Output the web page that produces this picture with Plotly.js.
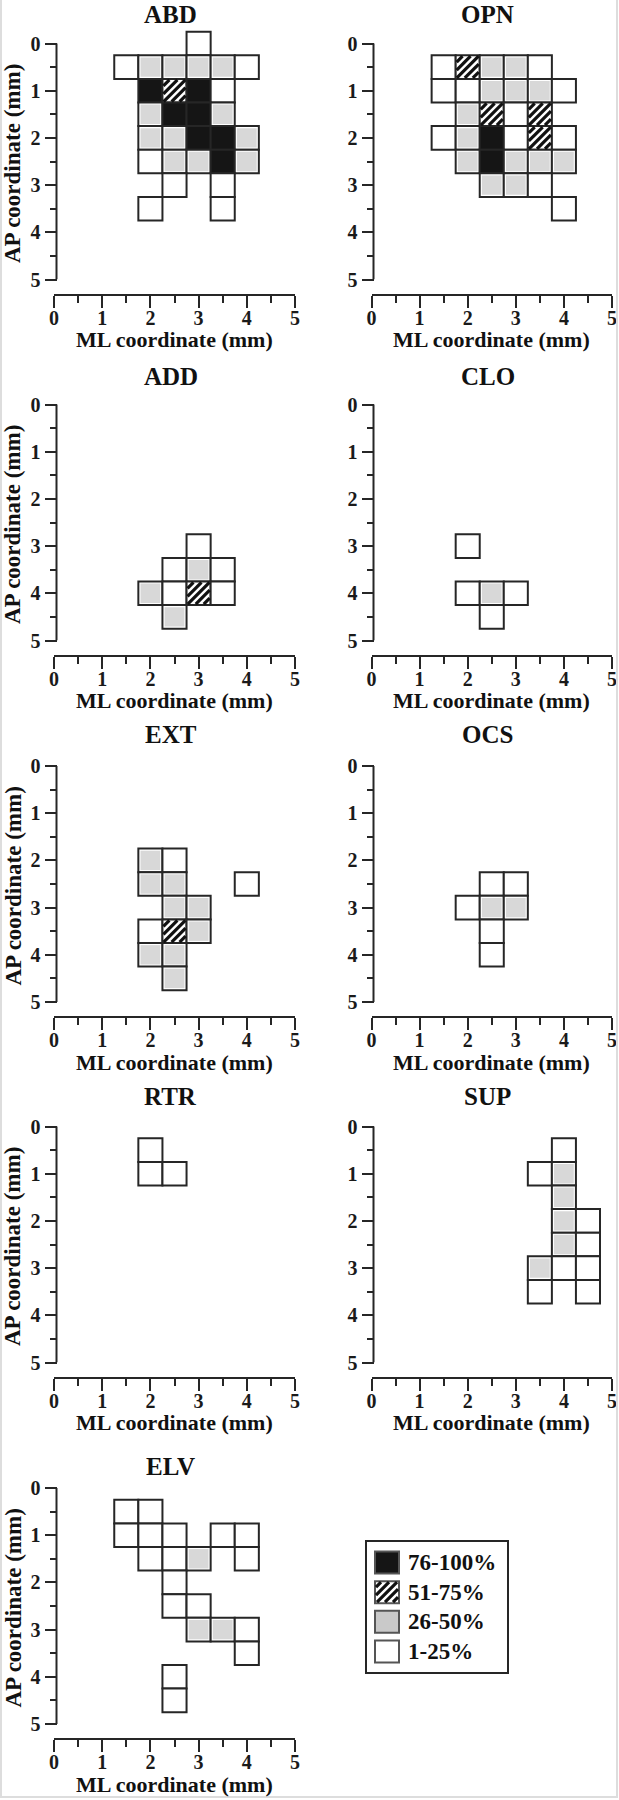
<!DOCTYPE html>
<html>
<head>
<meta charset="utf-8">
<script src="https://cdn.plot.ly/plotly-3.0.1.min.js"></script>
<style>
html, body { margin: 0; padding: 0; background: #ffffff; }
#chart { width: 619px; height: 1800px; }
</style>
</head>
<body>
<div id="chart"></div>
<script>
// ---------------- DATA ----------------
// level codes: 4 = 76-100%, 3 = 51-75%, 2 = 26-50%, 1 = 1-25%
const panelNames = ['ABD', 'OPN', 'ADD', 'CLO', 'EXT', 'OCS', 'RTR', 'SUP', 'ELV'];
const levelCodes = [4, 3, 2, 1];
const levelLabels = ['76-100%', '51-75%', '26-50%', '1-25%'];
const xTickVals = [0, 1, 2, 3, 4, 5];
const yTickVals = [0, 1, 2, 3, 4, 5];
const xAxisTitle = 'ML coordinate (mm)';
const yAxisTitle = 'AP coordinate (mm)';

const ABD_ml    = [3, 1.5, 2, 2.5, 3, 3.5, 4, 2, 2.5, 3, 3.5, 2, 2.5, 3, 3.5, 2, 2.5, 3, 3.5, 4, 2, 2.5, 3, 3.5, 4, 2.5, 3.5, 2, 3.5];
const ABD_ap    = [0, 0.5, 0.5, 0.5, 0.5, 0.5, 0.5, 1, 1, 1, 1, 1.5, 1.5, 1.5, 1.5, 2, 2, 2, 2, 2, 2.5, 2.5, 2.5, 2.5, 2.5, 3, 3, 3.5, 3.5];
const ABD_level = [1, 1, 2, 2, 2, 2, 1, 4, 3, 4, 1, 2, 4, 4, 2, 2, 2, 4, 4, 2, 1, 2, 2, 4, 2, 1, 1, 1, 1];

const OPN_ml    = [1.5, 2, 2.5, 3, 3.5, 1.5, 2, 2.5, 3, 3.5, 4, 2, 2.5, 3, 3.5, 1.5, 2, 2.5, 3, 3.5, 4, 2, 2.5, 3, 3.5, 4, 2.5, 3, 3.5, 4];
const OPN_ap    = [0.5, 0.5, 0.5, 0.5, 0.5, 1, 1, 1, 1, 1, 1, 1.5, 1.5, 1.5, 1.5, 2, 2, 2, 2, 2, 2, 2.5, 2.5, 2.5, 2.5, 2.5, 3, 3, 3, 3.5];
const OPN_level = [1, 3, 2, 2, 1, 1, 1, 2, 2, 2, 1, 2, 3, 1, 3, 1, 2, 4, 1, 3, 1, 2, 4, 2, 2, 2, 2, 2, 1, 1];

const ADD_ml    = [3, 2.5, 3, 3.5, 2, 2.5, 3, 3.5, 2.5];
const ADD_ap    = [3, 3.5, 3.5, 3.5, 4, 4, 4, 4, 4.5];
const ADD_level = [1, 1, 2, 1, 2, 1, 3, 1, 2];

const CLO_ml    = [2, 2, 2.5, 3, 2.5];
const CLO_ap    = [3, 4, 4, 4, 4.5];
const CLO_level = [1, 1, 2, 1, 1];

const EXT_ml    = [2, 2.5, 2, 2.5, 4, 2.5, 3, 2, 2.5, 3, 2, 2.5, 2.5];
const EXT_ap    = [2, 2, 2.5, 2.5, 2.5, 3, 3, 3.5, 3.5, 3.5, 4, 4, 4.5];
const EXT_level = [2, 1, 2, 2, 1, 2, 2, 1, 3, 2, 2, 2, 2];

const OCS_ml    = [2.5, 3, 2, 2.5, 3, 2.5, 2.5];
const OCS_ap    = [2.5, 2.5, 3, 3, 3, 3.5, 4];
const OCS_level = [1, 1, 1, 2, 2, 1, 1];

const RTR_ml    = [2, 2, 2.5];
const RTR_ap    = [0.5, 1, 1];
const RTR_level = [1, 1, 1];

const SUP_ml    = [4, 3.5, 4, 4, 4, 4.5, 4, 4.5, 3.5, 4, 4.5, 3.5, 4.5];
const SUP_ap    = [0.5, 1, 1, 1.5, 2, 2, 2.5, 2.5, 3, 3, 3, 3.5, 3.5];
const SUP_level = [1, 1, 2, 2, 2, 1, 2, 1, 2, 1, 1, 1, 1];

const ELV_ml    = [1.5, 2, 1.5, 2, 2.5, 3.5, 4, 2, 2.5, 3, 4, 2.5, 2.5, 3, 3, 3.5, 4, 4, 2.5, 2.5];
const ELV_ap    = [0.5, 0.5, 1, 1, 1, 1, 1, 1.5, 1.5, 1.5, 1.5, 2, 2.5, 2.5, 3, 3, 3, 3.5, 4, 4.5];
const ELV_level = [1, 1, 1, 1, 1, 1, 1, 1, 1, 2, 1, 1, 1, 1, 2, 2, 1, 1, 1, 1];

// ---------------- STYLE / LAYOUT ----------------
const W = 619, H = 1800;
const px = x => x / W;
const py = y => 1 - y / H;
const INK = '#262626';
const SERIF = '"Liberation Serif", "Times New Roman", serif';
const CELL = 0.5;
const HATCH_LEVEL = 3;
const GREY_LEVEL = 2;
const GREY_INSET = 0.045;     // grey fill sits slightly inside the outline, as in the figure

const levelFill = {4: '#151515', 3: '#ffffff', 2: '#ffffff', 1: '#ffffff'};
const levelSwatch = {4: '#151515', 3: '#ffffff', 2: '#c9c9c9', 1: '#ffffff'};
const GREY = '#d8d8d8';

const panelData = {
  ABD: [ABD_ml, ABD_ap, ABD_level], OPN: [OPN_ml, OPN_ap, OPN_level],
  ADD: [ADD_ml, ADD_ap, ADD_level], CLO: [CLO_ml, CLO_ap, CLO_level],
  EXT: [EXT_ml, EXT_ap, EXT_level], OCS: [OCS_ml, OCS_ap, OCS_level],
  RTR: [RTR_ml, RTR_ap, RTR_level], SUP: [SUP_ml, SUP_ap, SUP_level],
  ELV: [ELV_ml, ELV_ap, ELV_level]
};

const colLeft = [54, 371.5];
const colRight = [295, 612];
const yLineX = [56.5, 373.5];
const titleX = [170.5, 487.5];
const rowTop = [43.5, 404.5, 766, 1126.5, 1488];
const rowH = 236;
const yPad = 0.4;            // extra data room above AP = 0 so edge cells are not clipped
const xLineGap = 15;
const titleY = [14.5, 376, 734, 1096, 1466];

// diagonal "/" hatch segments for cells, computed in pixel space then mapped back to data units
function hatchLines(cx, cy, hx, hy, sx, sy, step) {
  const xs = [], ys = [];
  cx.forEach((c, i) => {
    const CX = c * sx, CY = cy[i] * sy, HX = hx * sx, HY = hy * sy;
    const lim = HX + HY;
    for (let d = -Math.floor(lim / step) * step; d <= lim; d += step) {
      const k = CX + CY + d;
      const X0 = Math.max(CX - HX, k - CY - HY);
      const X1 = Math.min(CX + HX, k - CY + HY);
      if (X1 - X0 < 1.5) continue;
      xs.push(X0 / sx, X1 / sx, null);
      ys.push((k - X0) / sy, (k - X1) / sy, null);
    }
  });
  return {x: xs, y: ys};
}

function baseAxis() {
  return {
    showline: true, linewidth: 2, linecolor: INK,
    ticks: 'outside', ticklen: 12, tickwidth: 2, tickcolor: INK,
    tickmode: 'array',
    minor: {ticks: 'outside', ticklen: 7, tickwidth: 2, tickcolor: INK, dtick: 0.5, tick0: 0, showgrid: false},
    showgrid: false, zeroline: false, fixedrange: true,
    tickfont: {family: SERIF, size: 20, weight: 'bold', color: '#1a1a1a'}
  };
}

const traces = [];
const overTraces = [];
const layout = {
  width: W, height: H,
  margin: {l: 0, r: 0, t: 0, b: 0},
  paper_bgcolor: '#ffffff', plot_bgcolor: 'rgba(0,0,0,0)',
  showlegend: false, barmode: 'overlay',
  annotations: [], shapes: []
};

panelNames.forEach((name, i) => {
  const row = Math.floor(i / 2), col = i % 2;
  const k = i + 1;
  const xa = 'xaxis' + (k === 1 ? '' : k), ya = 'yaxis' + (k === 1 ? '' : k);
  const xr = 'x' + (k === 1 ? '' : k), yr = 'y' + (k === 1 ? '' : k);
  const top = rowTop[row], bottom = rowTop[row] + rowH;
  const sx = (colRight[col] - colLeft[col]) / 5, sy = rowH / 5;
  const [ml, ap, lev] = panelData[name];

  // outlined cells
  traces.push({
    type: 'bar', orientation: 'v',
    x: ml,
    y: ap.map(() => CELL),
    base: ap.map(a => a - CELL / 2),
    width: ml.map(() => CELL),
    xaxis: xr, yaxis: yr,
    hoverinfo: 'skip',
    marker: {color: lev.map(l => levelFill[l]), line: {color: INK, width: 2}}
  });

  // grey fill of 26-50% cells
  const gx = ml.filter((v, j) => lev[j] === GREY_LEVEL);
  const gy = ap.filter((v, j) => lev[j] === GREY_LEVEL);
  if (gx.length) {
    overTraces.push({
      type: 'bar', orientation: 'v',
      x: gx,
      y: gy.map(() => CELL - 2 * GREY_INSET),
      base: gy.map(a => a - CELL / 2 + GREY_INSET),
      width: gx.map(() => CELL - 2 * GREY_INSET),
      xaxis: xr, yaxis: yr, hoverinfo: 'skip',
      marker: {color: GREY, line: {width: 0}}
    });
  }

  // hatching of 51-75% cells
  const hx = ml.filter((v, j) => lev[j] === HATCH_LEVEL);
  const hy = ap.filter((v, j) => lev[j] === HATCH_LEVEL);
  if (hx.length) {
    const h = hatchLines(hx, hy, CELL / 2 - 0.02, CELL / 2 - 0.02, sx, sy, 8);
    overTraces.push({
      type: 'scatter', mode: 'lines', x: h.x, y: h.y, xaxis: xr, yaxis: yr,
      connectgaps: false, hoverinfo: 'skip', line: {color: '#111111', width: 3.2}
    });
  }

  layout[xa] = Object.assign(baseAxis(), {
    domain: [px(colLeft[col]), px(colRight[col])],
    range: [0, 5], anchor: 'free', position: py(bottom + xLineGap),
    tickvals: xTickVals, ticklabelstandoff: -7
  });
  layout[ya] = Object.assign(baseAxis(), {
    domain: [py(bottom), py(top - yPad * sy)],
    range: [5, -yPad], anchor: 'free', position: px(yLineX[col]),
    tickvals: yTickVals, showline: false
  });
  // visible AP axis line spanning 0..5 only
  layout.shapes.push({
    type: 'line', xref: 'paper', yref: yr,
    x0: px(yLineX[col]), x1: px(yLineX[col]), y0: yTickVals[0], y1: yTickVals[yTickVals.length - 1],
    line: {color: INK, width: 2}
  });

  // panel title
  layout.annotations.push({
    xref: 'paper', yref: 'paper', x: px(titleX[col]), y: py(titleY[row]),
    xanchor: 'center', yanchor: 'middle', showarrow: false, text: name,
    font: {family: SERIF, size: 25, weight: 'bold', color: '#111111'}
  });
  // x axis title
  layout.annotations.push({
    xref: 'paper', yref: 'paper', x: px((colLeft[col] + colRight[col]) / 2), y: py(bottom + xLineGap + 45),
    xanchor: 'center', yanchor: 'middle', showarrow: false, text: xAxisTitle,
    font: {family: SERIF, size: 22, weight: 'bold', color: '#111111'}
  });
  // y axis title (left column only)
  if (col === 0) {
    layout.annotations.push({
      xref: 'paper', yref: 'paper', x: px(12.5), y: py((top + bottom) / 2 + 2),
      xanchor: 'center', yanchor: 'middle', showarrow: false, text: yAxisTitle, textangle: -90,
      font: {family: SERIF, size: 23, weight: 'bold', color: '#111111'}
    });
  }
});

// ---------------- LEGEND (drawn as a small bar chart) ----------------
const legIdx = levelCodes.map((c, i) => i);
const legBox = {l: 366.7, r: 506.7, t: 1542.3, b: 1671.7};
const legXRange = [-0.346, 5.487], legYRange = [3.68, -0.68];
const legSx = (legBox.r - legBox.l) / (legXRange[1] - legXRange[0]);
const legSy = (legBox.b - legBox.t) / (legYRange[0] - legYRange[1]);
const legThick = 0.74;
layout.xaxis10 = {
  domain: [px(legBox.l), px(legBox.r)], range: legXRange, anchor: 'y10',
  showline: true, mirror: true, linewidth: 2, linecolor: INK,
  showticklabels: false, ticks: '', showgrid: false, zeroline: false, fixedrange: true
};
layout.yaxis10 = {
  domain: [py(legBox.b), py(legBox.t)], range: legYRange, anchor: 'x10',
  showline: true, mirror: true, linewidth: 2, linecolor: INK,
  showticklabels: false, ticks: '', showgrid: false, zeroline: false, fixedrange: true
};
traces.push({
  type: 'bar', orientation: 'h',
  y: legIdx, x: legIdx.map(() => 1), base: legIdx.map(() => 0), width: legIdx.map(() => legThick),
  xaxis: 'x10', yaxis: 'y10', hoverinfo: 'skip',
  marker: {color: levelCodes.map(l => levelSwatch[l]), line: {color: '#555555', width: 2}}
});
{
  const hi = legIdx.filter(i => levelCodes[i] === HATCH_LEVEL);
  const h = hatchLines(hi.map(() => 0.5), hi, 0.5 - 1 / legSx, legThick / 2 - 1 / legSy, legSx, legSy, 8);
  overTraces.push({
    type: 'scatter', mode: 'lines', x: h.x, y: h.y, xaxis: 'x10', yaxis: 'y10',
    connectgaps: false, hoverinfo: 'skip', line: {color: '#111111', width: 3.2}
  });
}
levelLabels.forEach((lab, i) => {
  layout.annotations.push({
    xref: 'x10', yref: 'y10', x: 1.3, y: legIdx[i], xanchor: 'left', yanchor: 'middle',
    showarrow: false, text: lab,
    font: {family: SERIF, size: 23, weight: 'bold', color: '#111111'}
  });
});

// faint frame of the figure image
layout.shapes.push({
  type: 'path', xref: 'paper', yref: 'paper',
  path: 'M ' + px(1) + ' ' + py(0) + ' L ' + px(1) + ' ' + py(1797) + ' L ' + px(617) + ' ' + py(1797) + ' L ' + px(617) + ' ' + py(0),
  line: {color: '#dddddd', width: 2}
});

Plotly.newPlot('chart', traces.concat(overTraces), layout, {staticPlot: true, displayModeBar: false});
</script>
</body>
</html>
